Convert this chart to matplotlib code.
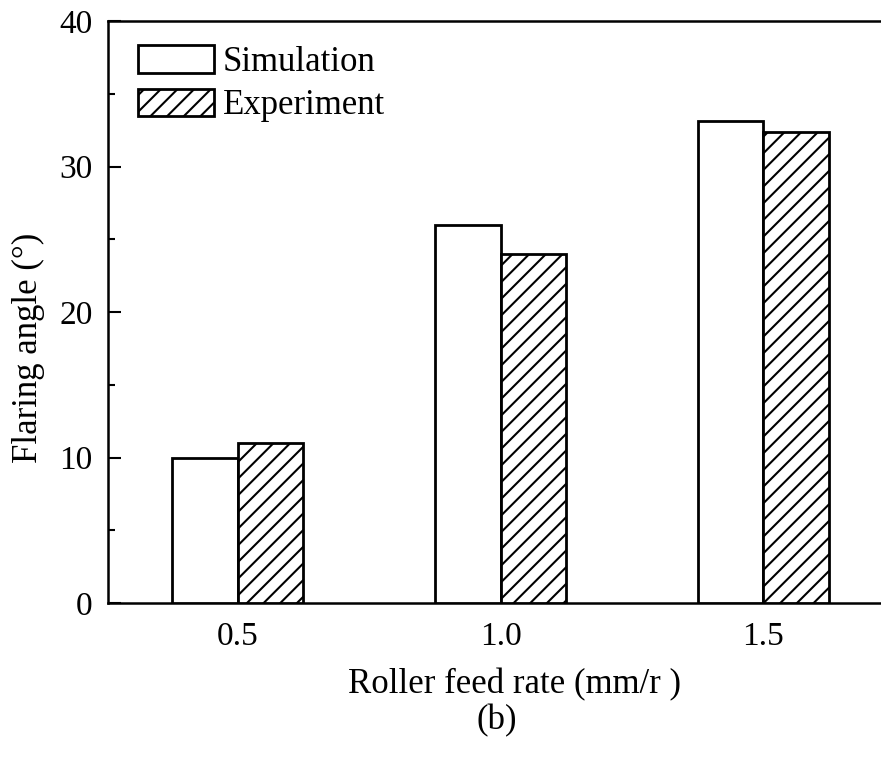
import matplotlib
matplotlib.use("Agg")
import matplotlib.pyplot as plt
import numpy as np

plt.rcParams['font.family'] = ['Liberation Serif', 'DejaVu Serif']
plt.rcParams['hatch.linewidth'] = 1.5

feed_rates = [0.5, 1.0, 1.5]
tick_labels = ["0.5", "1.0", "1.5"]
simulation = [10.0, 26.0, 33.1]
experiment = [11.0, 24.0, 32.4]

fig = plt.figure(figsize=(8.81, 7.62), dpi=100)
ax = fig.add_axes([108/881, 159/762, 773/881, 582/762])

x = np.array(feed_rates)
w = 0.125
ax.bar(x - w/2, simulation, width=w, facecolor='white', edgecolor='black',
       linewidth=2, label='Simulation', zorder=3)
ax.bar(x + w/2, experiment, width=w, facecolor='white', edgecolor='black',
       linewidth=2, hatch='//', label='Experiment', zorder=3)

ax.set_xlim(0.253, 1.724)
ax.set_ylim(0, 40)
ax.set_xticks(feed_rates)
ax.set_xticklabels(tick_labels)
ax.set_yticks([0, 10, 20, 30, 40])
ax.set_yticks([5, 15, 25, 35], minor=True)
ax.tick_params(axis='y', which='major', direction='in', length=9, width=1.5,
               labelsize=24, pad=11)
ax.tick_params(axis='y', which='minor', direction='in', length=5, width=1.5)
ax.tick_params(axis='x', which='both', length=0, labelsize=24, pad=13)
for s in ['left', 'top', 'bottom']:
    ax.spines[s].set_linewidth(1.8)
ax.spines['right'].set_visible(False)

fig.text(28/881, 1 - 348/762, 'Flaring angle (°)', fontsize=25,
         rotation=90, ha='center', va='center')

fig.text(515/881, 1 - 685/762, 'Roller feed rate (mm/r )', fontsize=25,
         ha='center', va='center')
fig.text(497/881, 1 - 721/762, '(b)', fontsize=25, ha='center', va='center')

ax.legend(loc='upper left', bbox_to_anchor=(30/773, 1 - 24/582),
          bbox_transform=ax.transAxes, frameon=False, fontsize=25,
          handlelength=2.2, handleheight=0.85, handletextpad=0.25,
          labelspacing=0.28, borderaxespad=0, borderpad=0)

fig.savefig('out.png', dpi=100)
